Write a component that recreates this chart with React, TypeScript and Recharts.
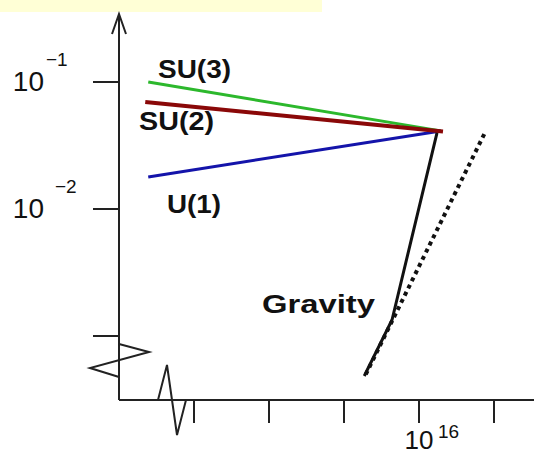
import React from "react";
import { Line, LineChart, XAxis, YAxis } from "recharts";

// log10 of energy (x) and log10 of coupling (y)
const su3 = [
  { x: 12.39, y: -1.0 },
  { x: 16.29, y: -1.385 },
];
const su2 = [
  { x: 12.35, y: -1.157 },
  { x: 16.32, y: -1.39 },
];
const u1 = [
  { x: 12.39, y: -1.748 },
  { x: 16.29, y: -1.385 },
];
const gravity = [
  { x: 16.24, y: -1.4 },
  { x: 15.64, y: -2.874 },
  { x: 15.27, y: -3.315 },
];
const gravityAlt = [
  { x: 16.87, y: -1.41 },
  { x: 15.28, y: -3.315 },
];

const xTicks = [13, 14, 15, 16, 17];
const yTicks = [-3, -2, -1];
const xLabelled = [16];
const yLabelled = [-1, -2];

const font = "'Liberation Sans', Arial, Helvetica, sans-serif";
const ink = "#111";

function XTick({ x, y, payload }: any) {
  const v = payload.value;
  if (!xLabelled.includes(v)) return <g />;
  return (
    <g fontFamily={font} fill={ink}>
      <text x={x} y={y + 24} textAnchor="middle" fontSize={26}>
        10
      </text>
      <text x={x + 19} y={y + 13} fontSize={19}>
        {String(v)}
      </text>
    </g>
  );
}

function YTick({ x, y, payload }: any) {
  const v = payload.value;
  if (!yLabelled.includes(v)) return <g />;
  const supX = v === -1 ? 46 : 55;
  return (
    <g fontFamily={font} fill={ink}>
      <text x={x - 47} y={y + 9} textAnchor="end" fontSize={28}>
        10
      </text>
      <text x={supX} y={y - 16} fontSize={19}>
        {"\u2212" + Math.abs(v)}
      </text>
    </g>
  );
}

export default function App() {
  return (
    <div style={{ position: "absolute", left: 0, top: 0, width: 534, height: 456, background: "#fff" }}>
      <LineChart width={534} height={456} margin={{ top: 14, right: 0, bottom: 0, left: 0 }}>
        <XAxis
          type="number"
          dataKey="x"
          domain={[12, 12 + 415 / 75]}
          ticks={xTicks}
          allowDataOverflow
          height={56}
          tickSize={23}
          axisLine={{ stroke: "#222", strokeWidth: 2 }}
          tickLine={{ stroke: "#222", strokeWidth: 2 }}
          tick={<XTick />}
        />
        <YAxis
          type="number"
          dataKey="y"
          domain={[-1 - 318 / 127, -1 + 68 / 127]}
          ticks={yTicks}
          allowDataOverflow
          width={119}
          tickSize={26}
          axisLine={{ stroke: "#222", strokeWidth: 2 }}
          tickLine={{ stroke: "#222", strokeWidth: 2 }}
          tick={<YTick />}
        />
        <Line data={su3} dataKey="y" stroke="#2cb82c" strokeWidth={3} dot={false} isAnimationActive={false} />
        <Line data={u1} dataKey="y" stroke="#1414aa" strokeWidth={3} dot={false} isAnimationActive={false} />
        <Line data={su2} dataKey="y" stroke="#8a0808" strokeWidth={4} dot={false} isAnimationActive={false} />
        <Line
          data={gravityAlt}
          dataKey="y"
          stroke="#111"
          strokeWidth={4}
          strokeDasharray="4 4"
          dot={false}
          isAnimationActive={false}
        />
        <Line data={gravity} dataKey="y" stroke="#111" strokeWidth={3} dot={false} isAnimationActive={false} />
      </LineChart>
      <svg
        width={534}
        height={456}
        style={{ position: "absolute", left: 0, top: 0, pointerEvents: "none" }}
      >
        <rect x={0} y={0} width={322} height={12} fill="#ffffd6" />
        <g fill="none" stroke="#222" strokeWidth={2}>
          <polyline points="112,34 119,14 126,34" />
          <polyline points="119,344 149,352 90,368 119,377" />
          <polyline points="158,400 167,365 177,435 186,400" />
        </g>
        <g fontFamily={font} fontWeight="bold" fontSize={26} fill={ink}>
          <text x={158} y={78} textLength={73} lengthAdjust="spacingAndGlyphs">SU(3)</text>
          <text x={139} y={130} textLength={75} lengthAdjust="spacingAndGlyphs">SU(2)</text>
          <text x={167} y={213} textLength={54} lengthAdjust="spacingAndGlyphs">U(1)</text>
          <text x={262} y={313} textLength={113} lengthAdjust="spacingAndGlyphs">Gravity</text>
        </g>
      </svg>
    </div>
  );
}
